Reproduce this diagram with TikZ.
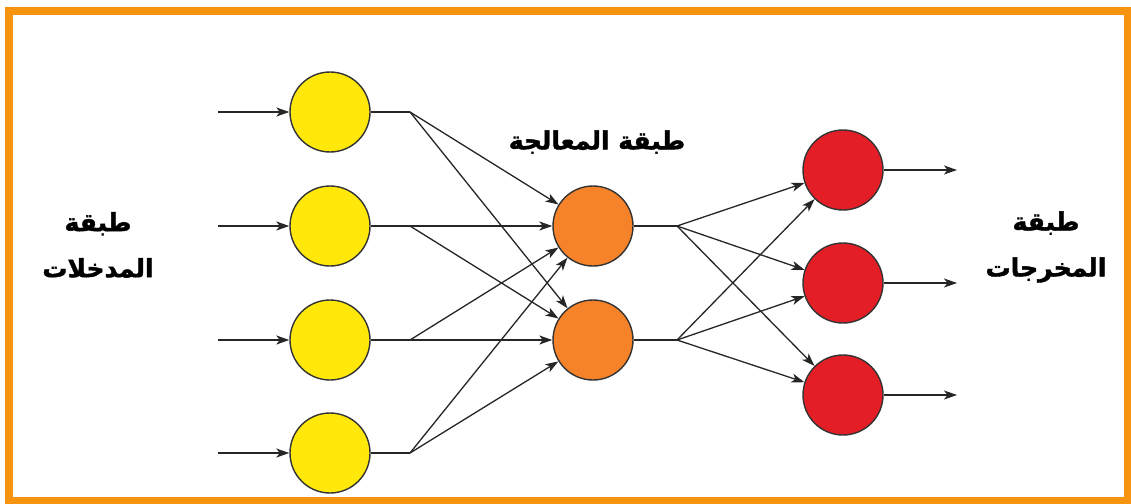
\documentclass[tikz,border=0pt]{standalone}
\usepackage{fontspec}
\newfontfamily\arabicfont[Script=Arabic,BoldFeatures={FakeBold=1.6}]{DejaVu Sans}
\TeXXeTstate=1
\usetikzlibrary{arrows.meta}
\definecolor{frameor}{HTML}{F7940F}
\definecolor{inyellow}{HTML}{FFE80A}
\definecolor{hidorange}{HTML}{F6832A}
\definecolor{outred}{HTML}{E41E26}
\begin{document}
\begin{tikzpicture}[x=1pt,y=-1pt,
  neuron/.style={circle, draw=black!80, line width=1.4pt, minimum size=80pt, inner sep=0pt},
  wire/.style={line width=1.3pt, draw=black!85},
  conn/.style={wire, -{Stealth[length=13pt,width=9pt,inset=3.5pt]}},
  lbl/.style={font=\arabicfont\bfseries\fontsize{25}{46}\selectfont, align=center, inner sep=0pt}]
\useasboundingbox (0,0) rectangle (1131,503);
\fill[white] (0,0) rectangle (1131,503);
% frame
\draw[frameor, line width=7.5pt] (9,11) rectangle (1127.5,500.5);
% input layer
\foreach \n/\y in {1/112,2/226,3/340,4/453}{
  \node[neuron, fill=inyellow] (i\n) at (330,\y) {};
  \coordinate (a\n) at (218,\y);
  \coordinate (k\n) at (410,\y);
}
% hidden layer
\node[neuron, fill=hidorange] (h1) at (593,226) {};
\node[neuron, fill=hidorange] (h2) at (593,340) {};
\coordinate (m1) at (677,226);
\coordinate (m2) at (677,340);
% output layer
\foreach \n/\y in {1/170,2/283,3/395}{
  \node[neuron, fill=outred] (o\n) at (843,\y) {};
  \coordinate (e\n) at (957,\y);
}
% connectors
\foreach \n in {1,...,4}{
  \draw[conn] (a\n) -- (i\n);
  \draw[wire] (i\n) -- (k\n);
  \draw[conn] (k\n) -- (h1);
  \draw[conn] (k\n) -- (h2);
}
\foreach \h in {1,2}{
  \draw[wire] (h\h) -- (m\h);
  \foreach \o in {1,2,3}{
    \draw[conn] (m\h) -- (o\o);
  }
}
\foreach \n in {1,2,3}{
  \draw[conn] (o\n) -- (e\n);
}
% labels
\node[lbl] (linput) at (98,245) {\beginR طبقة\endR\\\beginR المدخلات\endR};
\node[lbl] (loutput) at (1046,247) {\beginR طبقة\endR\\\beginR المخرجات\endR};
\node[lbl] (lhidden) at (597,142) {\beginR طبقة المعالجة\endR};
\end{tikzpicture}
\end{document}
